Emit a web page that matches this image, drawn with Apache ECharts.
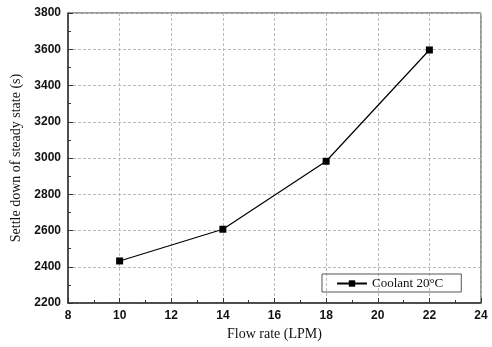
<!DOCTYPE html>
<html><head><meta charset="utf-8">
<script src="https://cdn.jsdelivr.net/npm/echarts@6/dist/echarts.min.js"></script>
<style>html,body{margin:0;padding:0;background:#fff}#c{width:492px;height:347px}</style>
</head><body><div id="c"></div>
<script>
const flowRates = [10, 14, 18, 22];
const settleTimes = [2432, 2607, 2982, 3596];
const seriesName = 'Coolant 20\u00B0C';
const xName = 'Flow rate (LPM)';
const yName = 'Settle down of steady state (s)';

const chart = echarts.init(document.getElementById('c'));
const axisLabel = {fontFamily:'Liberation Sans, Arial', fontWeight:'bold', fontSize:12, color:'#111', formatter:v=>String(v)};
chart.setOption({
  animation:false,
  grid:{left:68, top:13, right:11, bottom:44, show:true, borderColor:'#333', borderWidth:1},
  legend:{
    data:[seriesName], left:322, top:274,
    borderColor:'#555', borderWidth:1, padding:[3,18,2,14],
    itemWidth:30, itemHeight:8, itemGap:4,
    textStyle:{fontFamily:'Liberation Serif, Times New Roman', fontSize:13, color:'#111'}
  },
  xAxis:{
    type:'value', min:8, max:24, interval:2,
    name:xName, nameLocation:'middle', nameGap:22,
    nameTextStyle:{fontFamily:'Liberation Serif, Times New Roman', fontSize:14, color:'#111'},
    axisLine:{lineStyle:{color:'#333', width:1.5}},
    axisTick:{inside:true, length:5, lineStyle:{color:'#333'}},
    minorTick:{show:true, splitNumber:2, length:3, lineStyle:{color:'#333'}},
    axisLabel:Object.assign({margin:7}, axisLabel),
    splitLine:{show:true, lineStyle:{color:'#bbb', type:[3,2], width:1}}
  },
  yAxis:{
    type:'value', min:2200, max:3800, interval:200,
    name:yName, nameLocation:'middle', nameGap:45,
    nameTextStyle:{fontFamily:'Liberation Serif, Times New Roman', fontSize:14, color:'#111'},
    axisLine:{show:true, lineStyle:{color:'#333', width:1.5}},
    axisTick:{show:true, inside:true, length:5, lineStyle:{color:'#333'}},
    minorTick:{show:true, splitNumber:2, length:3, lineStyle:{color:'#333'}},
    axisLabel:Object.assign({margin:7}, axisLabel),
    splitLine:{show:true, lineStyle:{color:'#bbb', type:[3,2], width:1}}
  },
  series:[{
    name:seriesName, type:'line',
    data:flowRates.map((x,i)=>[x, settleTimes[i]]),
    symbol:'rect', symbolSize:7,
    lineStyle:{color:'#000', width:1.2},
    itemStyle:{color:'#000'}
  }]
});
</script></body></html>
